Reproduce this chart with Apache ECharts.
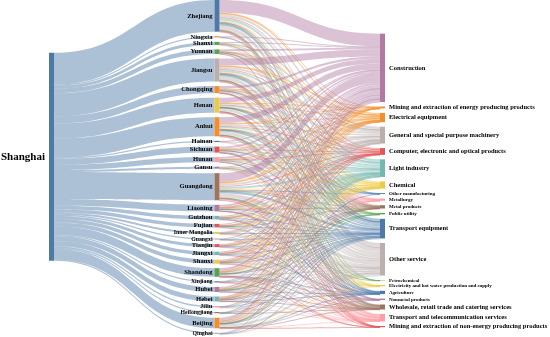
<!DOCTYPE html>
<html><head><meta charset="utf-8">
<script src="https://cdn.jsdelivr.net/npm/echarts@6/dist/echarts.min.js"></script>
<style>html,body{margin:0;padding:0;background:#fff}#c{width:550px;height:337px}</style>
</head><body><div id="c"></div>
<script>
// ---------- data ----------
const sourceRegion = 'Shanghai';
const provinces = ['Zhejiang','Ningxia','Shanxi','Yunnan','Jiangsu','Chongqing','Henan','Anhui','Hainan','Sichuan','Hunan','Gansu','Guangdong','Liaoning','Guizhou','Fujian','Inner Mongolia','Guangxi','Tianjin','Jiangxi','Shanxi ','Shandong','Xinjiang','Hubei','Hebei','Jilin','Heilongjiang','Beijing','Qinghai'];
const sectors = ['Construction','Mining and extraction of energy producing products','Electrical equipment','General and special purpose machinery','Computer, electronic and optical products','Light industry','Chemical','Other manufacturing','Metallurgy','Metal products','Public utility','Transport equipment','Other service','Petrochemical','Electricity and hot water production and supply','Agriculture','Nonmetal products','Wholesale, retail trade and catering services','Transport and telecommunication services','Mining and extraction of non-energy producing products'];
// rows = provinces, columns = sectors (estimated)
const flows = [
 [126,3,15,25,10,25,12,2,4,6,3,22,40,1,3,5,3,4,5,1],
 [5,0,0,2,0,0,0,0,0,0,0,2,3,0,0,0,0,0,0,0],
 [10,0,2,3,0,3,2,0,0,0,0,3,5,0,0,0,0,0,2,0],
 [15,0,2,4,2,5,2,0,0,1,0,4,7,0,0,0,0,1,2,0],
 [70,3,12,20,10,20,8,2,3,4,2,22,34,1,2,4,2,5,5,1],
 [22,0,3,6,2,6,2,0,1,1,0,8,11,0,0,1,0,2,4,1],
 [48,2,6,12,4,13,5,1,2,3,1,14,22,0,1,3,1,4,6,2],
 [60,2,9,15,6,16,7,1,3,3,2,18,28,1,2,4,2,5,5,1],
 [4,0,0,0,0,2,0,0,0,0,0,0,4,0,0,0,0,0,2,0],
 [19,0,3,5,2,5,2,0,0,1,0,6,10,0,0,1,0,2,3,1],
 [16,0,2,4,2,4,2,0,1,0,0,5,8,0,0,1,0,2,3,0],
 [7,0,0,2,0,2,1,0,0,0,0,2,4,0,1,0,0,0,1,0],
 [88,3,14,20,12,20,9,2,3,5,2,21,42,1,2,5,2,8,9,2],
 [20,1,3,6,2,5,2,0,1,1,0,7,10,0,0,1,1,2,3,0],
 [12,0,1,3,1,3,1,0,0,0,0,4,6,0,0,1,0,1,2,0],
 [11,0,2,3,1,4,1,0,0,1,0,3,6,0,0,0,0,1,2,0],
 [7,1,0,2,0,2,0,0,0,0,0,2,4,0,1,0,0,0,1,0],
 [4,0,0,0,0,2,0,0,0,0,0,2,3,0,0,0,0,1,0,0],
 [9,0,2,3,1,3,1,0,0,0,0,3,5,0,0,0,1,0,2,0],
 [11,0,2,3,1,3,2,0,1,0,0,4,5,0,0,1,0,0,2,0],
 [13,1,2,4,1,4,2,0,0,1,0,4,5,0,0,0,0,1,2,0],
 [26,1,4,7,3,7,3,0,1,2,1,9,12,0,0,2,1,2,3,1],
 [4,0,0,1,0,1,0,0,0,0,0,2,3,0,0,0,0,0,0,1],
 [15,0,2,4,2,4,2,0,0,1,1,6,8,0,0,1,0,2,2,0],
 [16,1,2,4,1,4,2,0,1,1,0,5,8,0,0,1,0,2,2,0],
 [5,0,0,1,0,2,0,0,0,0,0,3,3,0,0,0,0,0,1,0],
 [4,0,0,1,0,1,0,0,0,0,0,2,3,0,0,0,0,1,0,0],
 [28,1,4,7,4,7,3,1,1,2,1,10,22,0,1,2,1,4,5,1],
 [4,0,0,1,0,2,0,0,0,0,0,2,3,0,0,0,0,0,0,0]
];

// ---------- styles ----------
const palette = {blue:'#4e79a7',orange:'#f28e2b',red:'#e15759',teal:'#76b7b2',green:'#59a14f',yellow:'#edc948',purple:'#b07aa1',pink:'#ff9da7',brown:'#9c755f',grey:'#bab0ac'};
const provinceColors = ['blue','orange','green','green','grey','orange','yellow','orange','blue','red','pink','purple','brown','purple','teal','red','yellow','grey','red','teal','yellow','green','blue','purple','teal','pink','brown','orange','grey'];
const sectorColors = ['purple','orange','orange','grey','red','teal','yellow','blue','pink','brown','green','blue','grey','green','yellow','blue','purple','brown','pink','red'];
const smallSectorLabels = ['Other manufacturing','Metallurgy','Metal products','Public utility','Petrochemical','Electricity and hot water production and supply','Agriculture','Nonmetal products'];
const smallProvinceLabels = ['Inner Mongolia','Guangxi','Xinjiang','Heilongjiang','Qinghai'];
const padLeft = 480, padRight = 290; // layout spacers (invisible)

const nodes = [];
nodes.push({name:'__padL', depth:0, value:padLeft, itemStyle:{color:'rgba(0,0,0,0)'}, label:{show:false}});
nodes.push({name:sourceRegion, itemStyle:{color:'#4e79a7'}, label:{position:'left', distance:4, fontSize:11}});
provinces.forEach((p,i)=>nodes.push({name:p, itemStyle:{color:palette[provinceColors[i]]},
  label:{position:'left', distance:2, fontSize: smallProvinceLabels.includes(p)?5.8:6.6}}));
nodes.push({name:'__padR', depth:2, value:padRight, itemStyle:{color:'rgba(0,0,0,0)'}, label:{show:false}});
sectors.forEach((s,j)=>nodes.push({name:s, itemStyle:{color:palette[sectorColors[j]]},
  label:{position:'right', distance:4, fontSize: smallSectorLabels.includes(s)?5:6.5}}));

const links = [];
provinces.forEach((p,i)=>{
  const total = flows[i].reduce((a,b)=>a+b,0);
  links.push({source:sourceRegion, target:p, value:total, lineStyle:{color:'source', opacity:0.47}});
});
provinces.forEach((p,i)=>{
  flows[i].forEach((v,j)=>{ if(v>0) links.push({source:p, target:sectors[j], value:v, lineStyle:{color:'target', opacity:0.45}}); });
});

const chart = echarts.init(document.getElementById('c'), null, {renderer:'canvas'});
chart.setOption({
  animation:false,
  series:[{
    type:'sankey',
    left:49, right:165, top:0, bottom:3,
    nodeWidth:5, nodeGap:4.5,
    layoutIterations:0,
    draggable:false,
    emphasis:{focus:'none', disabled:true},
    itemStyle:{borderWidth:0},
    lineStyle:{curveness:0.5},
    label:{color:'#000', fontFamily:'Liberation Serif', fontWeight:'bold', formatter:p=>p.name.trim()},
    data:nodes,
    links:links
  }]
});
</script></body></html>
